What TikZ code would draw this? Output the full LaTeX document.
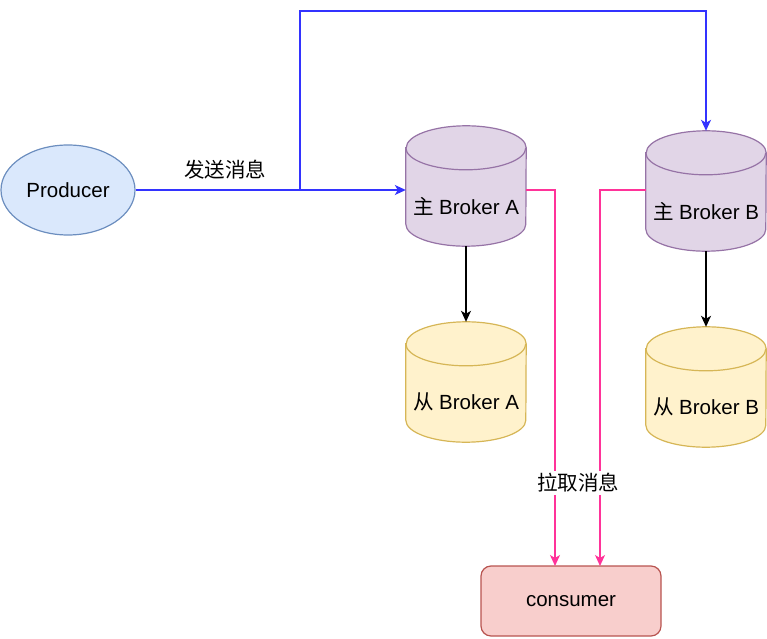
\documentclass[tikz,border=0pt]{standalone}
\usepackage{fontspec}
\setmainfont{Liberation Sans}
\newfontfamily\cjk{Noto Sans CJK SC}
\usetikzlibrary{arrows.meta,calc,shapes.geometric}
\definecolor{purfill}{HTML}{E1D5E7}
\definecolor{purdraw}{HTML}{9673A6}
\definecolor{yelfill}{HTML}{FFF2CC}
\definecolor{yeldraw}{HTML}{D6B656}
\definecolor{blufill}{HTML}{DAE8FC}
\definecolor{bludraw}{HTML}{6C8EBF}
\definecolor{redfill}{HTML}{F8CECC}
\definecolor{reddraw}{HTML}{B85450}
\definecolor{sendline}{HTML}{3333FF}
\definecolor{pullline}{HTML}{FF3399}
\newcommand{\mycyl}[6]{% name, x, y, fill, draw, text
  \node[minimum width=120pt, minimum height=120pt, inner sep=0pt] (#1) at (#2,#3) {};
  \draw[fill=#4, draw=#5, line width=1.2pt]
    ($(#1.north west)+(0,-22pt)$) -- ($(#1.south west)+(0,22pt)$)
    arc[start angle=180, end angle=360, x radius=60pt, y radius=22pt]
    -- ($(#1.north east)+(0,-22pt)$)
    arc[start angle=0, end angle=180, x radius=60pt, y radius=22pt] -- cycle;
  \draw[draw=#5, line width=1.2pt] ($(#1.north west)+(0,-22pt)$)
    arc[start angle=180, end angle=360, x radius=60pt, y radius=22pt];
  \node[txt] (#1text) at ($(#1)+(0,-20pt)$) {#6};
}
\begin{document}
\begin{tikzpicture}[x=1pt, y=1pt,
  txt/.style={font=\fontsize{20.5}{24}\selectfont, inner sep=1pt},
  tip/.style={-{Stealth[length=11pt, width=10pt, inset=3pt]}},
  send/.style={tip, draw=sendline, line width=1.3pt},
  pull/.style={tip, draw=pullline, line width=1.3pt},
  repl/.style={tip, draw=black, line width=1.3pt}]
\useasboundingbox (0,0) rectangle (767,638);

\node[ellipse, draw=bludraw, fill=blufill, line width=1.2pt, minimum width=134pt, minimum height=90pt, inner sep=0pt, txt] (prod) at (68,448) {Producer};

\mycyl{ma}{466}{452}{purfill}{purdraw}{{\cjk 主} Broker A}
\mycyl{mb}{706}{447}{purfill}{purdraw}{{\cjk 主} Broker B}
\mycyl{sa}{466}{256}{yelfill}{yeldraw}{{\cjk 从} Broker A}
\mycyl{sb}{706}{251}{yelfill}{yeldraw}{{\cjk 从} Broker B}

\node[draw=reddraw, fill=redfill, line width=1.2pt, rounded corners=10pt, minimum width=180pt, minimum height=70pt, inner sep=0pt, txt] (cons) at (571,37) {consumer};

\coordinate (split) at (300,448);
\draw[send] (prod.east) -- (prod.east -| ma.west);
\draw[send] (split) -- (300,627) -- (706,627) -- (mb.north);
\node[txt, anchor=south] (sendlbl) at (225,458) {\cjk 发送消息};

\draw[repl] (ma.south) -- (sa.north);
\draw[repl] (mb.south) -- (sb.north);

\draw[pull] (ma.east |- prod) -- (555,448) -- (555,72);
\draw[pull] (mb.west |- prod) -- (600,448) -- (600,72);
\node[txt, fill=white, inner sep=2pt] (pulllbl) at (578,155) {\cjk 拉取消息};
\end{tikzpicture}
\end{document}
